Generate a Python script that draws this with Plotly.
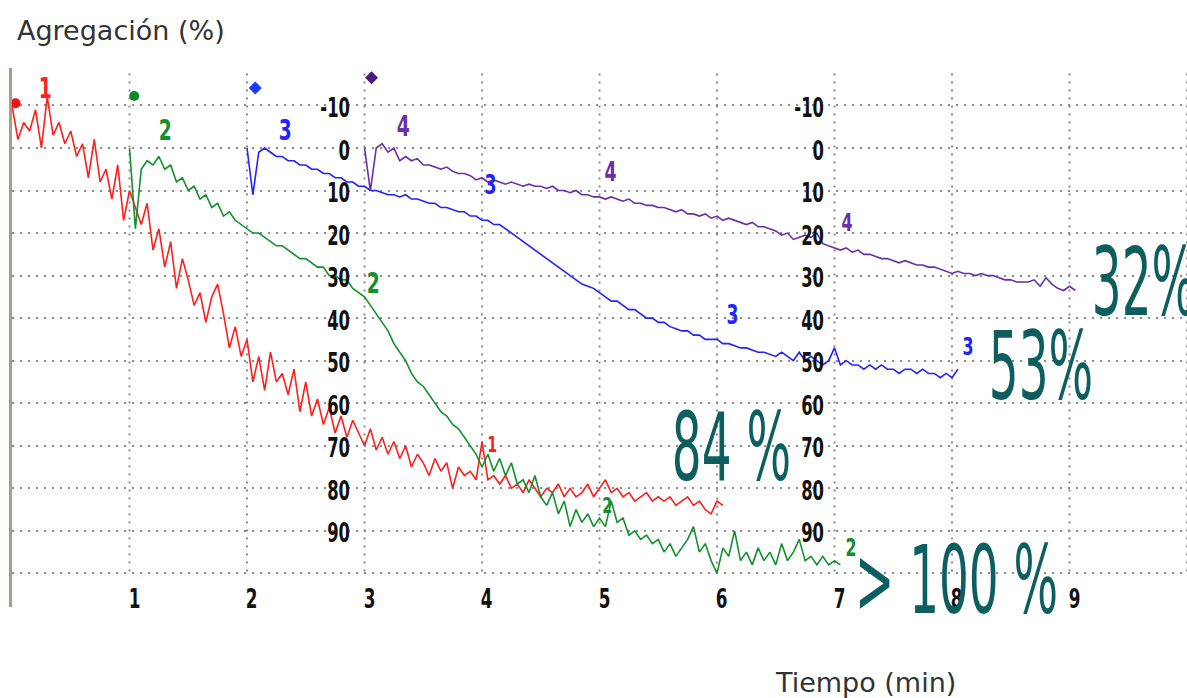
import json
import plotly.graph_objects as go

# ---------------- data ----------------
STEP = 0.05  # sampling interval of the aggregometer traces (min)

red_start = 0.0
red_vals = [-10, -2, -6, -4, -9, 0, -12, -3, -6, -1, -4, 2, -1, 7, -2, 8, 5, 12, 4, 17,
            10, 14, 18, 13, 24, 19, 28, 22, 33, 26, 31, 37, 34, 41, 35, 32, 39, 47, 42, 49,
            45, 55, 49, 57, 48, 55, 53, 58, 52, 62, 55, 63, 59, 65, 61, 67, 63, 68, 64, 67,
            70, 66, 71, 68, 72, 69, 73, 70, 75, 72, 74, 77, 73, 76, 74, 80, 75, 77, 76, 78,
            69, 78, 77, 79, 77, 80, 79, 81, 78, 80, 82, 80, 81, 79, 82, 80, 82, 81, 79, 82,
            80, 78, 81, 80, 82, 81, 83, 82, 81, 83, 82, 83, 82, 84, 83, 82, 84, 83, 85, 86,
            83, 84]

green_start = 1.0
green_vals = [0, 19, 5, 3, 4, 2, 5, 4, 8, 7, 10, 9, 12, 11, 14, 13, 16, 15, 17, 18,
              19, 20, 20, 21, 22, 23, 23, 24, 25, 26, 26, 27, 28, 28, 30, 30, 31, 31, 33, 34,
              35, 37, 39, 41, 43, 46, 48, 50, 53, 55, 56, 58, 60, 62, 63, 65, 66, 68, 70, 72,
              75, 72, 76, 73, 77, 74, 79, 78, 81, 77, 82, 84, 81, 86, 83, 89, 85, 88, 86, 89,
              87, 89, 83, 88, 87, 91, 90, 92, 91, 93, 92, 95, 93, 96, 94, 92, 89, 95, 93, 97,
              100, 94, 96, 90, 97, 95, 98, 94, 97, 95, 98, 93, 97, 95, 92, 97, 96, 98, 96, 98,
              97, 98]

blue_start = 2.0
blue_vals = [0, 11, 1, 0, 1, 2, 2, 3, 3, 4, 4, 5, 5, 6, 6, 7, 7, 8, 8, 9,
             9, 10, 10, 10.5, 11, 11, 11.5, 11, 12, 12, 12.5, 13, 13, 14, 14, 14.5, 15, 15, 16, 16,
             17, 17, 18, 18, 19, 20, 21, 22, 23, 24, 25, 26, 27, 28, 29, 30, 31, 32, 32.5, 33,
             34, 35, 36, 36, 37, 38, 38, 39, 40, 40, 41, 41, 42, 42.5, 43, 43, 44, 44, 45, 45,
             45, 46, 46, 46.5, 47, 47, 47.5, 48, 48, 48.5, 49, 48, 49, 50, 48, 50, 49, 50, 51, 50,
             47, 51, 50, 51, 51, 52, 51, 52, 51, 52, 52, 53, 52, 52, 53, 52, 53, 53, 54, 53,
             54, 52]

purple_start = 3.0
purple_vals = [0, 10, 0, -1, 1, 0, 3, 2, 3, 2.5, 4, 4, 4.5, 5, 4.5, 5.5, 6, 6, 6.5, 7.5,
               7, 8, 7.5, 8, 8.5, 8, 8.5, 9, 8.5, 9, 9, 9.5, 9, 10, 10, 10.5, 10, 11, 11, 11.5,
               11.5, 12, 11.5, 12, 12.5, 12, 13, 13, 13.5, 13.5, 14, 14, 14.5, 15, 14.5, 15.5, 15.5, 16, 15.5, 16.5,
               16, 17, 16.5, 17, 17.5, 18, 17.5, 18.5, 18.5, 19, 19.5, 20.5, 20, 21.5, 21, 20.5, 21, 20, 22.5, 23,
               23.5, 24, 23.5, 24.5, 24, 25, 25, 25.5, 26, 26, 26.5, 27, 26.5, 27, 27.5, 27.5, 28, 28, 28.5, 29,
               29.5, 29, 29.5, 29.5, 30, 29.5, 30, 30, 30.5, 31, 31, 31.5, 31.5, 31.5, 31, 32.5, 30.5, 32, 33, 33.5,
               32.5, 33.5]

series_names = ["1", "2", "3", "4"]
series_colors = ["#ff1e1e", "#12902e", "#2222ff", "#6a2ea6"]
series_starts = [red_start, green_start, blue_start, purple_start]
series_values = [red_vals, green_vals, blue_vals, purple_vals]

# agonist-addition markers at the top of each trace
marker_times = [0.03, 1.04, 2.07, 3.06]
marker_levels = [-10.5, -12.2, -14.1, -16.5]
marker_symbols = ["circle", "circle", "diamond", "diamond"]
marker_colors = ["#ee1111", "#0a8a2a", "#1a3cff", "#4b1c80"]

# curve number labels
label_texts = ["1", "2", "3", "4", "3", "4", "2", "1", "2", "3", "4", "3", "2"]
label_times = [0.28, 1.30, 2.32, 3.33, 4.07, 5.09, 3.07, 4.09, 5.07, 6.13, 7.11, 8.14, 7.14]
label_levels = [-14, -4.2, -4.2, -5.2, 8.7, 5.6, 31.7, 69.5, 84.0, 39.2, 17.4, 46.7, 93.9]
label_series = [0, 1, 2, 3, 2, 3, 1, 0, 1, 2, 3, 2, 1]
label_sizes = [26, 26, 26, 26, 24, 24, 26, 20, 20, 24, 22, 22, 22]

# result annotations
result_texts = ["32%", "53%", "84 %", "> 100 %"]
result_times = [9.63, 8.76, 6.12, 8.04]
result_levels = [31.8, 51.5, 70.6, 101.9]
result_color = "#0d5f5f"

# axes
x_ticks = [1, 2, 3, 4, 5, 6, 7, 8, 9]
x_grid = [1, 2, 3, 4, 5, 6, 7, 8, 9, 10]
y_grid = [-10, 0, 10, 20, 30, 40, 50, 60, 70, 80, 90, 100]
y_labels = [-10, 0, 10, 20, 30, 40, 50, 60, 70, 80, 90]
y_label_columns = [2.89, 6.93]

y_title = "Agregación (%)"
x_title = "Tiempo (min)"

# ---------------- figure ----------------
fig = go.Figure()

for name, color, start, vals in zip(series_names, series_colors, series_starts, series_values):
    t = [round(start + i * STEP, 4) for i in range(len(vals))]
    fig.add_trace(go.Scatter(x=t, y=vals, mode="lines", name=name,
                             line=dict(color=color, width=1.6), showlegend=False))

fig.add_trace(go.Scatter(x=marker_times, y=marker_levels, mode="markers", showlegend=False,
                         marker=dict(symbol=marker_symbols, color=marker_colors, size=10)))

GRID = "#8c8c8c"
DASH = "2px,6px"

shapes = []
for gx in x_grid:
    shapes.append(dict(type="line", xref="x", yref="y", x0=gx, x1=gx, y0=-17.5, y1=100.6,
                       line=dict(color=GRID, width=2, dash=DASH), layer="below"))

ann = []
scales = []   # (scale-x, scale-y, anchor) applied to each annotation after drawing
NARROW = "Liberation Sans Narrow, Arial Narrow, DejaVu Sans Condensed, Liberation Sans, sans-serif"
for col in y_label_columns:
    for v in y_labels:
        ann.append(dict(x=col, y=v + 0.6, xref="x", yref="y", text=str(v), showarrow=False,
                        xanchor="right", yanchor="middle",
                        font=dict(family=NARROW, size=24, color="#111", weight="bold")))
        scales.append([0.76, 1.08, "right"])
for v in x_ticks:
    ann.append(dict(x=v + 0.04, y=106.0, xref="x", yref="y", text=str(v), showarrow=False,
                    xanchor="center", yanchor="middle",
                    font=dict(family=NARROW, size=24, color="#111", weight="bold")))
    scales.append([0.78, 1.08, "center"])
for txt, tx, ty, si, sz in zip(label_texts, label_times, label_levels, label_series, label_sizes):
    ann.append(dict(x=tx, y=ty, xref="x", yref="y", text=txt, showarrow=False,
                    xanchor="center", yanchor="middle",
                    font=dict(family=NARROW, size=sz, color=series_colors[si], weight="bold")))
    scales.append([0.8, 1.1, "center"])
for txt, tx, ty in zip(result_texts, result_times, result_levels):
    ann.append(dict(x=tx, y=ty, xref="x", yref="y", text=txt, showarrow=False,
                    xanchor="center", yanchor="middle",
                    font=dict(family=NARROW, size=66, color=result_color)))
    scales.append([0.79, 1.42, "center"])

ann.append(dict(x=0.0026, y=1.0705, xref="paper", yref="paper", text=y_title, showarrow=False,
                xanchor="left", yanchor="middle",
                font=dict(family="DejaVu Sans, Verdana, sans-serif", size=27, color="#333")))
scales.append([1, 1, "center"])
ann.append(dict(x=0.7268, y=-0.1410, xref="paper", yref="paper", text=x_title, showarrow=False,
                xanchor="center", yanchor="middle",
                font=dict(family="DejaVu Sans, Verdana, sans-serif", size=27, color="#333")))
scales.append([1, 1, "center"])

fig.update_layout(
    width=1187, height=698,
    margin=dict(l=12, r=0, t=68, b=91),
    paper_bgcolor="white", plot_bgcolor="white",
    shapes=shapes, annotations=ann,
    xaxis=dict(range=[0, 10], showgrid=False, zeroline=False, showticklabels=False,
               showline=False, ticks=""),
    yaxis=dict(range=[107.9, -18.8], tickmode="array", tickvals=y_grid, showticklabels=False,
               showgrid=True, gridcolor=GRID, gridwidth=2, griddash=DASH, zeroline=False,
               showline=True, linecolor="#a59e88", linewidth=3, ticks=""),
)

post = """
document.body.style.margin = '0';
document.body.style.padding = '0';
var SC = %s;
var gd = document.getElementById('{plot_id}');
gd.querySelectorAll('g.annotation').forEach(function(g){
  var i = parseInt(g.getAttribute('data-index'));
  var s = SC[i];
  if (!s || (s[0] === 1 && s[1] === 1)) return;
  var t = g.querySelector('text.annotation-text');
  if (!t) return;
  var b = t.getBBox();
  var ax = b.x + b.width/2;
  if (s[2] === 'right') ax = b.x + b.width;
  if (s[2] === 'left') ax = b.x;
  var ay = b.y + b.height/2;
  t.setAttribute('transform', 'translate(' + ax + ',' + ay + ') scale(' + s[0] + ',' + s[1] + ') translate(' + (-ax) + ',' + (-ay) + ')');
});
""" % json.dumps(scales)

fig.write_html("out.html", post_script=post, config={"displayModeBar": False})
